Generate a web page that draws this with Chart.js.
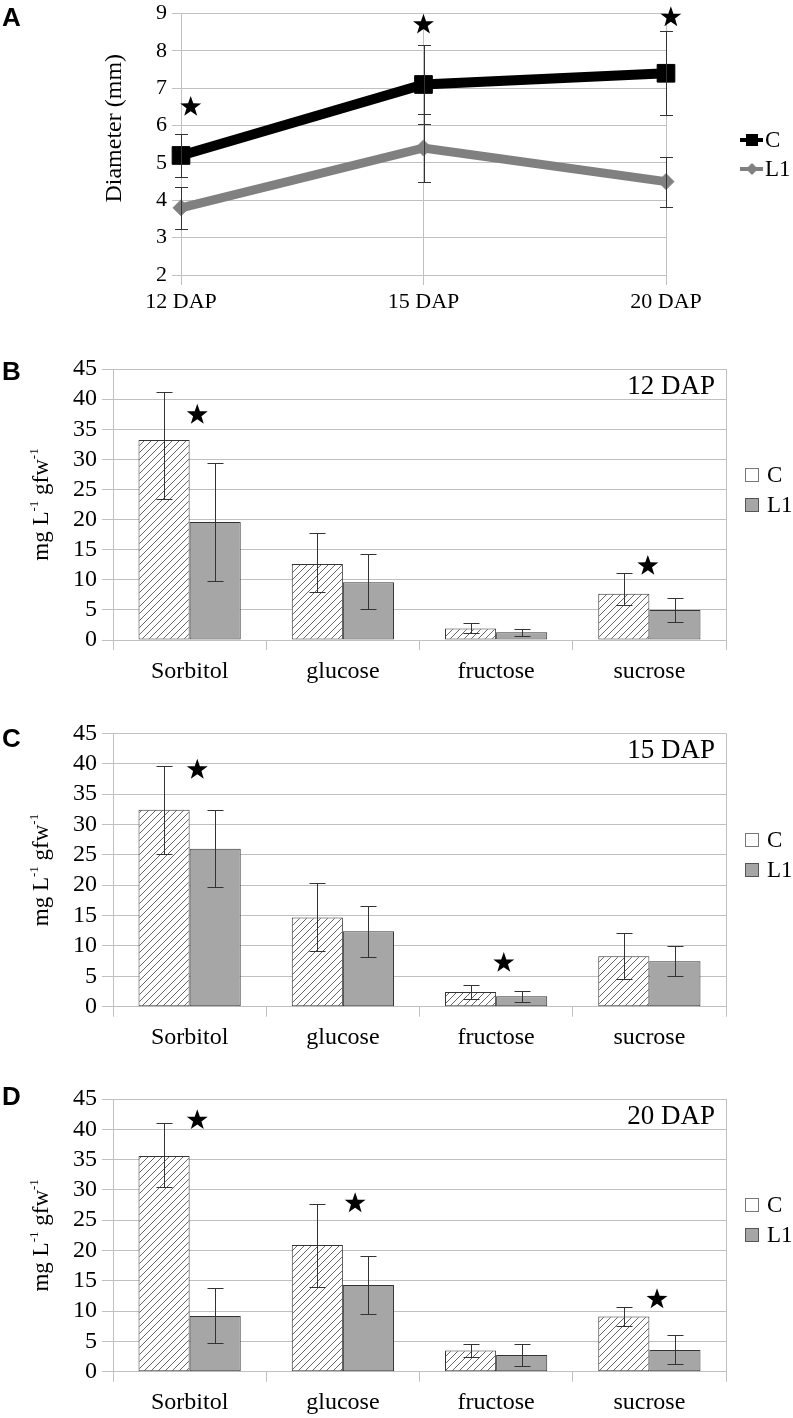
<!DOCTYPE html>
<html>
<head>
<meta charset="utf-8">
<script src="https://cdn.jsdelivr.net/npm/chart.js@4.4.0/dist/chart.umd.min.js"></script>
<style>
  body { margin: 0; background: #fff; width: 793px; height: 1418px; position: relative; overflow: hidden; }
  canvas { position: absolute; left: 0; }
  .panel { position: absolute; left: 2px; font: bold 26px 'Liberation Sans', Arial, sans-serif; line-height: 26px; color: #000; }
</style>
</head>
<body>
<canvas id="chartA" width="793" height="330" style="top:0px"></canvas>
<canvas id="chartB" width="793" height="360" style="top:340px"></canvas>
<canvas id="chartC" width="793" height="360" style="top:700px"></canvas>
<canvas id="chartD" width="793" height="358" style="top:1060px"></canvas>
<div class="panel" style="top:4px">A</div>
<div class="panel" style="top:358px">B</div>
<div class="panel" style="top:725px">C</div>
<div class="panel" style="top:1083px">D</div>
<script>
// Fruit diameter (panel A)
const dapLabels = ['12 DAP', '15 DAP', '20 DAP'];
const diameterTicks = [2, 3, 4, 5, 6, 7, 8, 9];
const diameterC = [5.2, 7.1, 7.4];
const diameterCErr = [0.57, 1.06, 1.12];
const diameterL1 = [3.8, 5.4, 4.5];
const diameterL1Err = [0.56, 0.92, 0.67];
const diameterStarX = [0.04, 1.0, 2.02];
const diameterStarY = [6.5, 8.7, 8.9];

// Sugars (panels B-D)
const sugars = ['Sorbitol', 'glucose', 'fructose', 'sucrose'];
const sugarTicks = [0, 5, 10, 15, 20, 25, 30, 35, 40, 45];

const c12 = [33.2, 12.6, 1.9, 7.7];
const c12Hi = [41.2, 17.7, 2.8, 11.2];
const c12Lo = [23.4, 7.9, 1.2, 5.8];
const l12 = [19.6, 9.6, 1.3, 5.0];
const l12Hi = [29.4, 14.2, 1.9, 6.9];
const l12Lo = [9.8, 5.1, 0.7, 3.0];
const star12X = [0.05, 2.99];
const star12Y = [37.4, 12.3];

const c15 = [32.4, 14.7, 2.4, 8.3];
const c15Hi = [39.7, 20.3, 3.5, 12.2];
const c15Lo = [25.1, 9.2, 1.3, 4.5];
const l15 = [26.0, 12.4, 1.7, 7.5];
const l15Hi = [32.3, 16.6, 2.6, 10.0];
const l15Lo = [19.7, 8.2, 0.8, 5.05];
const star15X = [0.05, 2.05];
const star15Y = [39.0, 7.2];

const c20 = [35.6, 20.9, 3.5, 9.1];
const c20Hi = [41.0, 27.7, 4.6, 10.6];
const c20Lo = [30.5, 14.0, 2.5, 7.6];
const l20 = [9.2, 14.3, 2.75, 3.6];
const l20Hi = [13.8, 19.1, 4.6, 6.05];
const l20Lo = [4.7, 9.6, 0.94, 1.3];
const star20X = [0.05, 1.08, 3.05];
const star20Y = [41.5, 27.8, 11.95];

const SERIF = "'Liberation Serif', 'DejaVu Serif', serif";
const GRID = '#c0c0c0';
const DARK = '#333333';

Chart.defaults.color = '#000';
Chart.defaults.font.family = SERIF;

// error bars from errHi / errLo on each dataset
const errorBars = {
  id: 'errorBars',
  afterDatasetsDraw(chart, args, opts) {
    const ctx = chart.ctx;
    const y = chart.scales.y;
    const cap = opts.cap || 8;
    ctx.save();
    ctx.strokeStyle = DARK;
    ctx.lineWidth = 1;
    chart.data.datasets.forEach((ds, i) => {
      if (!ds.errHi) return;
      chart.getDatasetMeta(i).data.forEach((el, j) => {
        const x = Math.round(el.x) + 0.5;
        const top = Math.round(y.getPixelForValue(ds.errHi[j])) + 0.5;
        const bot = Math.round(y.getPixelForValue(ds.errLo[j])) + 0.5;
        ctx.beginPath();
        ctx.moveTo(x, top); ctx.lineTo(x, bot);
        ctx.moveTo(x - cap, top); ctx.lineTo(x + cap, top);
        ctx.moveTo(x - cap, bot); ctx.lineTo(x + cap, bot);
        ctx.stroke();
      });
    });
    ctx.restore();
  }
};

// significance stars
const stars = {
  id: 'stars',
  afterDraw(chart, args, o) {
    const ctx = chart.ctx;
    const R = 11, r = 4.4;
    ctx.save();
    ctx.fillStyle = '#000';
    o.x.forEach((xv, k) => {
      const cx = chart.scales.x.getPixelForValue(xv);
      const cy = chart.scales.y.getPixelForValue(o.y[k]);
      ctx.beginPath();
      for (let n = 0; n < 10; n++) {
        const a = -Math.PI / 2 + n * Math.PI / 5;
        const rad = n % 2 ? r : R;
        ctx.lineTo(cx + rad * Math.cos(a), cy + rad * Math.sin(a));
      }
      ctx.closePath();
      ctx.fill();
    });
    ctx.restore();
  }
};

// rotated axis title with superscripts
const yTitle = {
  id: 'yTitle',
  afterDraw(chart, args, o) {
    const ctx = chart.ctx;
    const a = chart.chartArea;
    ctx.save();
    ctx.translate(o.x, (a.top + a.bottom) / 2 + (o.dy || 0));
    ctx.rotate(-Math.PI / 2);
    ctx.fillStyle = '#000';
    ctx.textBaseline = 'alphabetic';
    ctx.textAlign = 'left';
    const main = o.size + 'px ' + SERIF;
    const sup = Math.round(o.size * 0.58) + 'px ' + SERIF;
    let total = 0;
    const parts = o.parts.map(p => {
      ctx.font = p.sup ? sup : main;
      const w = ctx.measureText(p.t).width;
      total += w;
      return { t: p.t, sup: p.sup, w: w };
    });
    let x = -total / 2;
    parts.forEach(p => {
      ctx.font = p.sup ? sup : main;
      ctx.fillText(p.t, x, p.sup ? -o.size * 0.42 : 0);
      x += p.w;
    });
    ctx.restore();
  }
};

// title inside the plot, top right
const cornerTitle = {
  id: 'cornerTitle',
  afterDraw(chart, args, o) {
    if (!o.text) return;
    const ctx = chart.ctx;
    const a = chart.chartArea;
    ctx.save();
    ctx.font = '27px ' + SERIF;
    ctx.fillStyle = '#000';
    ctx.textAlign = 'right';
    ctx.textBaseline = 'middle';
    ctx.fillText(o.text, a.right - 11, a.top + 18);
    ctx.restore();
  }
};

// legend to the right of the plot
const sideLegend = {
  id: 'sideLegend',
  afterDraw(chart, args, o) {
    const ctx = chart.ctx;
    const a = chart.chartArea;
    const list = chart.data.datasets;
    const cy = (a.top + a.bottom) / 2 + o.dy;
    ctx.save();
    list.forEach((ds, i) => {
      const y = Math.round(cy + (i - (list.length - 1) / 2) * o.gap);
      if (o.kind === 'line') {
        ctx.strokeStyle = ds.borderColor;
        ctx.lineWidth = 4;
        ctx.beginPath();
        ctx.moveTo(o.x, y); ctx.lineTo(o.x + 23, y);
        ctx.stroke();
        ctx.fillStyle = ds.borderColor;
        const mx = o.x + 12;
        if (ds.pointStyle === 'rect') {
          ctx.fillRect(mx - 6, y - 6, 12, 12);
        } else {
          ctx.beginPath();
          ctx.moveTo(mx, y - 6); ctx.lineTo(mx + 6, y); ctx.lineTo(mx, y + 6); ctx.lineTo(mx - 6, y);
          ctx.closePath(); ctx.fill();
        }
      } else {
        ctx.fillStyle = ds.legendFill;
        ctx.strokeStyle = ds.legendStroke;
        ctx.lineWidth = 1;
        ctx.fillRect(o.x, y - 7, 14, 14);
        ctx.strokeRect(o.x + 0.5, y - 6.5, 13, 13);
      }
      ctx.fillStyle = '#000';
      ctx.font = o.size + 'px ' + SERIF;
      ctx.textAlign = 'left';
      ctx.textBaseline = 'middle';
      ctx.fillText(ds.label, o.textX, y + 1);
    });
    ctx.restore();
  }
};

function hatchPattern(ctx) {
  const c = document.createElement('canvas');
  c.width = 7; c.height = 7;
  const g = c.getContext('2d');
  g.fillStyle = '#fff';
  g.fillRect(0, 0, 7, 7);
  g.strokeStyle = '#555';
  g.lineWidth = 0.9;
  g.beginPath();
  g.moveTo(0, 7); g.lineTo(7, 0);
  g.moveTo(-1, 1); g.lineTo(1, -1);
  g.moveTo(6, 8); g.lineTo(8, 6);
  g.stroke();
  return ctx.createPattern(c, 'repeat');
}

// Panel A: line chart
const ctxA = document.getElementById('chartA').getContext('2d');
new Chart(ctxA, {
  type: 'line',
  data: {
    labels: dapLabels,
    datasets: [
      {
        label: 'C', data: diameterC,
        borderColor: '#000', backgroundColor: '#000', borderWidth: 10,
        pointStyle: 'rect', pointRadius: 12.5, pointBorderWidth: 1, pointBorderColor: '#000', pointBackgroundColor: '#000',
        errHi: diameterC.map((v, i) => v + diameterCErr[i]),
        errLo: diameterC.map((v, i) => v - diameterCErr[i]),
        clip: false, tension: 0
      },
      {
        label: 'L1', data: diameterL1,
        borderColor: '#808080', backgroundColor: '#808080', borderWidth: 9,
        pointStyle: 'rectRot', pointRadius: 8, pointBorderWidth: 1, pointBorderColor: '#808080', pointBackgroundColor: '#808080',
        errHi: diameterL1.map((v, i) => v + diameterL1Err[i]),
        errLo: diameterL1.map((v, i) => v - diameterL1Err[i]),
        clip: false, tension: 0
      }
    ]
  },
  options: {
    responsive: false,
    animation: false,
    layout: { padding: { top: 11, right: 127, left: 0, bottom: 0 } },
    scales: {
      x: {
        offset: false,
        grid: { color: GRID, tickColor: GRID, tickLength: 10, offset: false },
        border: { color: GRID },
        ticks: { font: { family: SERIF, size: 22 }, padding: 4, maxRotation: 0, autoSkip: false },
        afterFit: s => { s.height = 55; s.paddingLeft = 0; s.paddingRight = 0; }
      },
      y: {
        min: diameterTicks[0], max: diameterTicks[diameterTicks.length - 1],
        ticks: { stepSize: 1, font: { family: SERIF, size: 22 }, padding: 5, autoSkip: false },
        grid: { color: GRID, tickColor: GRID, tickLength: 9 },
        border: { color: GRID },
        afterFit: s => { s.width = 181; s.paddingTop = 0; s.paddingBottom = 0; }
      }
    },
    plugins: {
      legend: { display: false },
      tooltip: { enabled: false },
      errorBars: { cap: 6.5 },
      stars: { x: diameterStarX, y: diameterStarY },
      yTitle: { x: 121, dy: -16, size: 24, parts: [{ t: 'Diameter (mm)' }] },
      sideLegend: { kind: 'line', x: 740, textX: 765, dy: 10.5, gap: 29, size: 23 }
    }
  },
  plugins: [errorBars, stars, yTitle, sideLegend]
});

// Panels B-D: grouped bar charts
function sugarChart(id, height, plotTop, plotBottom, title, cVals, cHi, cLo, lVals, lHi, lLo, starX, starY) {
  const ctx = document.getElementById(id).getContext('2d');
  return new Chart(ctx, {
    type: 'bar',
    data: {
      labels: sugars,
      datasets: [
        {
          label: 'C', data: cVals, backgroundColor: hatchPattern(ctx),
          borderColor: DARK, borderWidth: 1, borderSkipped: false,
          errHi: cHi, errLo: cLo, legendFill: '#fff', legendStroke: '#777'
        },
        {
          label: 'L1', data: lVals, backgroundColor: '#a6a6a6',
          borderColor: DARK, borderWidth: 1, borderSkipped: false,
          errHi: lHi, errLo: lLo, legendFill: '#a6a6a6', legendStroke: '#555'
        }
      ]
    },
    options: {
      responsive: false,
      animation: false,
      categoryPercentage: 0.667,
      barPercentage: 1,
      layout: { padding: { top: plotTop, right: 67, left: 0, bottom: 0 } },
      scales: {
        x: {
          grid: {
            offset: true,
            color: c => (c.index === 0 || c.index === undefined) ? GRID : 'rgba(0,0,0,0)',
            tickColor: GRID, tickLength: 10
          },
          border: { color: GRID },
          ticks: { font: { family: SERIF, size: 24 }, padding: 7, maxRotation: 0, autoSkip: false },
          afterFit: s => { s.height = height - plotBottom; s.paddingLeft = 0; s.paddingRight = 0; }
        },
        y: {
          min: sugarTicks[0], max: sugarTicks[sugarTicks.length - 1],
          ticks: { stepSize: 5, font: { family: SERIF, size: 24 }, padding: 5, autoSkip: false },
          grid: { color: GRID, tickColor: GRID, tickLength: 11 },
          border: { color: GRID },
          afterFit: s => { s.width = 113; s.paddingTop = 0; s.paddingBottom = 0; }
        }
      },
      plugins: {
        legend: { display: false },
        tooltip: { enabled: false },
        errorBars: { cap: 8 },
        stars: { x: starX, y: starY },
        cornerTitle: { text: title },
        yTitle: { x: 48, dy: 0, size: 23, parts: [{ t: 'mg L' }, { t: '-1', sup: true }, { t: ' gfw' }, { t: '-1', sup: true }] },
        sideLegend: { kind: 'box', x: 745, textX: 767, dy: -15, gap: 30, size: 23 }
      }
    },
    plugins: [errorBars, stars, cornerTitle, yTitle, sideLegend]
  });
}

sugarChart('chartB', 360, 29, 300, '12 DAP', c12, c12Hi, c12Lo, l12, l12Hi, l12Lo, star12X, star12Y);
sugarChart('chartC', 360, 33.3, 306.7, '15 DAP', c15, c15Hi, c15Lo, l15, l15Hi, l15Lo, star15X, star15Y);
sugarChart('chartD', 358, 39, 311.7, '20 DAP', c20, c20Hi, c20Lo, l20, l20Hi, l20Lo, star20X, star20Y);
</script>
</body>
</html>
